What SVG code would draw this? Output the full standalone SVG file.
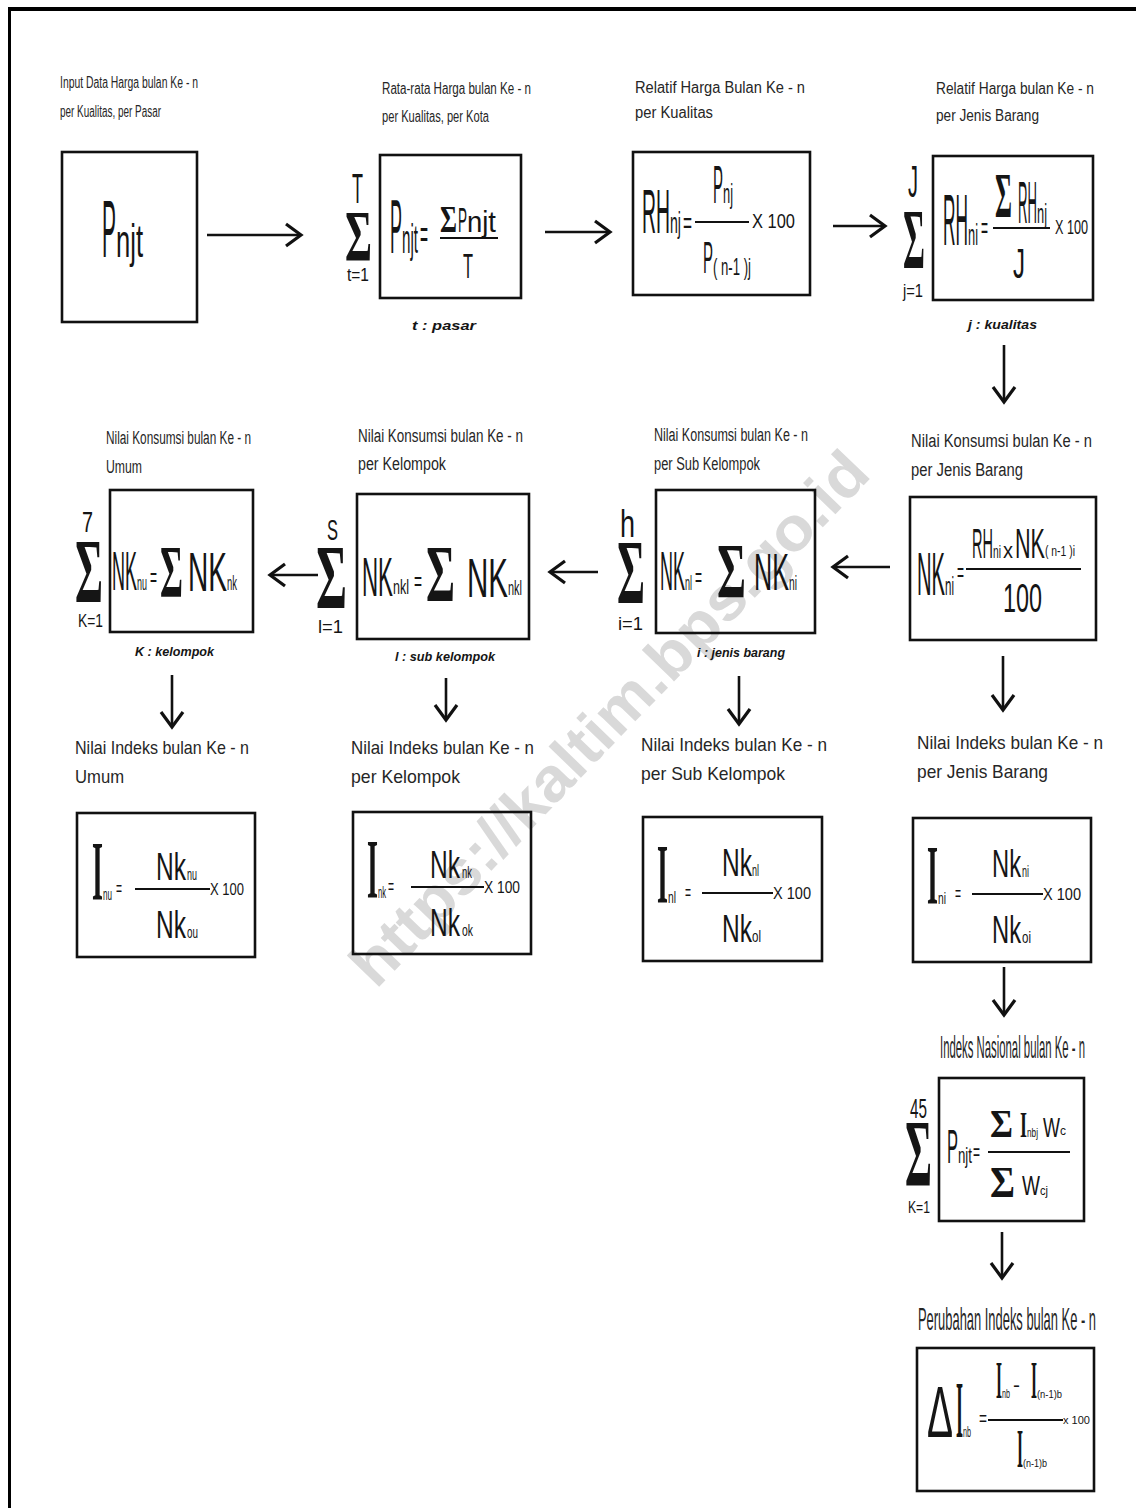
<svg xmlns="http://www.w3.org/2000/svg" width="1136" height="1508" viewBox="0 0 1136 1508">
<style>
text{font-family:"Liberation Sans",Arial,sans-serif;fill:#151515}
.lbl{fill:#262626}
.s16{font-size:16px}
.s18{font-size:18px}
.s19{font-size:19px}
.note{font-size:13px;font-style:italic;font-weight:bold}
.sg{font-family:"Liberation Serif","Times New Roman",serif;font-weight:bold}
.ib{font-family:"Liberation Serif","Times New Roman",serif;font-weight:bold}
.box{fill:none;stroke:#111;stroke-width:2.6}
.fl{stroke:#111;stroke-width:2.2}
.con{stroke:#111;stroke-width:2.6;fill:none}
.wm{font-weight:bold;font-size:62px;fill:#d9d9d9}
</style>
<defs>
<marker id="ah" markerUnits="userSpaceOnUse" markerWidth="30" markerHeight="30" refX="0" refY="0" viewBox="-18 -15 22 30" orient="auto">
<path d="M-15,-11 L0,0 L-15,11" fill="none" stroke="#111" stroke-width="3.2" stroke-linejoin="miter"/>
</marker>
</defs>
<rect x="0" y="0" width="1136" height="1508" fill="#fff"/>
<g id="frame">
<line x1="8" y1="9" x2="1136" y2="9" stroke="#000" stroke-width="4"/>
<line x1="9.5" y1="8" x2="9.5" y2="1508" stroke="#000" stroke-width="3"/>
</g>
<text class="wm" transform="translate(376,990) rotate(-46)" textLength="715" lengthAdjust="spacingAndGlyphs">https://kaltim.bps.go.id</text>

<g id="connectors">
<line class="con" x1="207" y1="235" x2="301" y2="235" marker-end="url(#ah)"/>
<line class="con" x1="545" y1="232" x2="610" y2="232" marker-end="url(#ah)"/>
<line class="con" x1="833" y1="226" x2="885" y2="226" marker-end="url(#ah)"/>
<line class="con" x1="1004" y1="345" x2="1004" y2="402" marker-end="url(#ah)"/>
<line class="con" x1="890" y1="567" x2="833" y2="567" marker-end="url(#ah)"/>
<line class="con" x1="598" y1="572" x2="550" y2="572" marker-end="url(#ah)"/>
<line class="con" x1="318" y1="575" x2="270" y2="575" marker-end="url(#ah)"/>
<line class="con" x1="172" y1="675" x2="172" y2="727" marker-end="url(#ah)"/>
<line class="con" x1="446" y1="678" x2="446" y2="720" marker-end="url(#ah)"/>
<line class="con" x1="739" y1="676" x2="739" y2="724" marker-end="url(#ah)"/>
<line class="con" x1="1003" y1="656" x2="1003" y2="710" marker-end="url(#ah)"/>
<line class="con" x1="1004" y1="967" x2="1004" y2="1015" marker-end="url(#ah)"/>
<line class="con" x1="1002" y1="1232" x2="1002" y2="1278" marker-end="url(#ah)"/>
</g>

<g id="n-input">
<text class="lbl s16" x="60" y="88" textLength="138" lengthAdjust="spacingAndGlyphs">Input Data Harga bulan Ke - n</text>
<text class="lbl s16" x="60" y="117" textLength="101" lengthAdjust="spacingAndGlyphs">per Kualitas, per Pasar</text>
<rect class="box" x="62" y="152" width="135" height="170"/>
<text y="257"><tspan x="102" font-size="82" textLength="14" lengthAdjust="spacingAndGlyphs">P</tspan><tspan x="116" font-size="46" textLength="27" lengthAdjust="spacingAndGlyphs">njt</tspan></text>
</g>

<g id="n-rata">
<text class="lbl s16" x="382" y="94" textLength="149" lengthAdjust="spacingAndGlyphs">Rata-rata Harga bulan Ke - n</text>
<text class="lbl s16" x="382" y="122" textLength="107" lengthAdjust="spacingAndGlyphs">per Kualitas, per Kota</text>
<text x="352" y="203" font-size="42" textLength="11" lengthAdjust="spacingAndGlyphs">T</text>
<text class="sg" x="345" y="260" font-size="71" textLength="27" lengthAdjust="spacingAndGlyphs">Σ</text>
<text x="347" y="281" font-size="18" textLength="22" lengthAdjust="spacingAndGlyphs">t=1</text>
<rect class="box" x="380" y="155" width="141" height="143"/>
<text y="253"><tspan x="390" font-size="76" textLength="12" lengthAdjust="spacingAndGlyphs">P</tspan><tspan x="402" font-size="40" textLength="16" lengthAdjust="spacingAndGlyphs">njt</tspan><tspan x="420" y="248" font-size="40" textLength="8" lengthAdjust="spacingAndGlyphs">=</tspan></text>
<text y="232"><tspan class="sg" x="440" font-size="38" textLength="17" lengthAdjust="spacingAndGlyphs">Σ</tspan><tspan x="458" font-size="35" textLength="9" lengthAdjust="spacingAndGlyphs">P</tspan><tspan x="467" font-size="30" textLength="29" lengthAdjust="spacingAndGlyphs">njt</tspan></text>
<line class="fl" x1="440" y1="238" x2="498" y2="238"/>
<text x="463" y="278" font-size="35" textLength="10" lengthAdjust="spacingAndGlyphs">T</text>
<text class="note" x="412" y="330" textLength="64" lengthAdjust="spacingAndGlyphs">t : pasar</text>
</g>

<g id="n-relatif-kualitas">
<text class="lbl s16" x="635" y="93" textLength="170" lengthAdjust="spacingAndGlyphs">Relatif Harga Bulan Ke - n</text>
<text class="lbl s16" x="635" y="118" textLength="78" lengthAdjust="spacingAndGlyphs">per Kualitas</text>
<rect class="box" x="633" y="152" width="177" height="143"/>
<text y="233"><tspan x="642" font-size="63" textLength="28" lengthAdjust="spacingAndGlyphs">RH</tspan><tspan x="670" font-size="30" textLength="11" lengthAdjust="spacingAndGlyphs">nj</tspan><tspan x="683" font-size="30" textLength="9" lengthAdjust="spacingAndGlyphs">=</tspan></text>
<text y="203"><tspan x="713" font-size="53" textLength="10" lengthAdjust="spacingAndGlyphs">P</tspan><tspan x="723" font-size="28" textLength="10" lengthAdjust="spacingAndGlyphs">nj</tspan></text>
<line class="fl" x1="695" y1="222" x2="749" y2="222"/>
<text x="752" y="228" font-size="21" textLength="43" lengthAdjust="spacingAndGlyphs">X 100</text>
<text y="273"><tspan x="703" font-size="44" textLength="10" lengthAdjust="spacingAndGlyphs">P</tspan><tspan x="713" y="275" font-size="24" textLength="38" lengthAdjust="spacingAndGlyphs">( n-1 )j</tspan></text>
</g>

<g id="n-relatif-jenis">
<text class="lbl s16" x="936" y="94" textLength="158" lengthAdjust="spacingAndGlyphs">Relatif Harga bulan Ke - n</text>
<text class="lbl s16" x="936" y="121" textLength="103" lengthAdjust="spacingAndGlyphs">per Jenis Barang</text>
<text x="908" y="197" font-size="45" textLength="10" lengthAdjust="spacingAndGlyphs">J</text>
<text class="sg" x="903" y="268" font-size="85" textLength="22" lengthAdjust="spacingAndGlyphs">Σ</text>
<text x="903" y="297" font-size="18" textLength="20" lengthAdjust="spacingAndGlyphs">j=1</text>
<rect class="box" x="933" y="156" width="160" height="144"/>
<text y="245"><tspan x="943" font-size="72" textLength="25" lengthAdjust="spacingAndGlyphs">RH</tspan><tspan x="968" font-size="30" textLength="10" lengthAdjust="spacingAndGlyphs">ni</tspan><tspan x="981" y="238" font-size="30" textLength="7" lengthAdjust="spacingAndGlyphs">=</tspan></text>
<text y="217"><tspan class="sg" x="995" font-size="63" textLength="17" lengthAdjust="spacingAndGlyphs">Σ</tspan><tspan x="1018" y="223" font-size="60" textLength="19" lengthAdjust="spacingAndGlyphs">RH</tspan><tspan x="1037" y="223" font-size="28" textLength="10" lengthAdjust="spacingAndGlyphs">nj</tspan></text>
<line class="fl" x1="993" y1="228" x2="1050" y2="228"/>
<text x="1055" y="234" font-size="20" textLength="33" lengthAdjust="spacingAndGlyphs">X 100</text>
<text x="1013" y="278" font-size="43" textLength="12" lengthAdjust="spacingAndGlyphs">J</text>
<text class="note" x="968" y="329" textLength="69" lengthAdjust="spacingAndGlyphs">j : kualitas</text>
</g>

<g id="n-nk-jenis">
<text class="lbl s18" x="911" y="447" textLength="181" lengthAdjust="spacingAndGlyphs">Nilai Konsumsi bulan Ke - n</text>
<text class="lbl s18" x="911" y="476" textLength="112" lengthAdjust="spacingAndGlyphs">per Jenis Barang</text>
<rect class="box" x="910" y="497" width="186" height="143"/>
<text y="595"><tspan x="917" font-size="62" textLength="28" lengthAdjust="spacingAndGlyphs">NK</tspan><tspan x="945" font-size="26" textLength="9" lengthAdjust="spacingAndGlyphs">ni</tspan><tspan x="957" y="582" font-size="28" textLength="7" lengthAdjust="spacingAndGlyphs">=</tspan></text>
<text y="558"><tspan x="972" font-size="42" textLength="21" lengthAdjust="spacingAndGlyphs">RH</tspan><tspan x="993" font-size="18" textLength="8" lengthAdjust="spacingAndGlyphs">ni</tspan><tspan x="1003" font-size="22" textLength="10" lengthAdjust="spacingAndGlyphs">x</tspan><tspan x="1015" font-size="42" textLength="30" lengthAdjust="spacingAndGlyphs">NK</tspan><tspan x="1045" y="556" font-size="14" textLength="30" lengthAdjust="spacingAndGlyphs">( n-1 )i</tspan></text>
<line class="fl" x1="966" y1="569" x2="1081" y2="569"/>
<text x="1003" y="612" font-size="40" textLength="39" lengthAdjust="spacingAndGlyphs">100</text>
</g>

<g id="n-nk-sub">
<text class="lbl s18" x="654" y="441" textLength="154" lengthAdjust="spacingAndGlyphs">Nilai Konsumsi bulan Ke - n</text>
<text class="lbl s18" x="654" y="470" textLength="106" lengthAdjust="spacingAndGlyphs">per Sub Kelompok</text>
<text x="620" y="537" font-size="38" textLength="15" lengthAdjust="spacingAndGlyphs">h</text>
<text class="sg" x="617" y="603" font-size="90" textLength="28" lengthAdjust="spacingAndGlyphs">Σ</text>
<text x="618" y="630" font-size="18" textLength="25" lengthAdjust="spacingAndGlyphs">i=1</text>
<rect class="box" x="656" y="490" width="159" height="143"/>
<text y="590"><tspan x="660" font-size="56" textLength="25" lengthAdjust="spacingAndGlyphs">NK</tspan><tspan x="685" font-size="20" textLength="7" lengthAdjust="spacingAndGlyphs">nl</tspan><tspan x="695" y="587" font-size="28" textLength="7" lengthAdjust="spacingAndGlyphs">=</tspan><tspan class="sg" x="717" y="597" font-size="78" textLength="29" lengthAdjust="spacingAndGlyphs">Σ</tspan><tspan x="754" y="590" font-size="52" textLength="35" lengthAdjust="spacingAndGlyphs">NK</tspan><tspan x="789" font-size="20" textLength="8" lengthAdjust="spacingAndGlyphs">ni</tspan></text>
<text class="note" x="697" y="657" textLength="88" lengthAdjust="spacingAndGlyphs">i : jenis barang</text>
</g>

<g id="n-nk-kelompok">
<text class="lbl s18" x="358" y="442" textLength="165" lengthAdjust="spacingAndGlyphs">Nilai Konsumsi bulan Ke - n</text>
<text class="lbl s18" x="358" y="470" textLength="88" lengthAdjust="spacingAndGlyphs">per Kelompok</text>
<text x="327" y="540" font-size="30" textLength="11" lengthAdjust="spacingAndGlyphs">S</text>
<text class="sg" x="316" y="608" font-size="92" textLength="31" lengthAdjust="spacingAndGlyphs">Σ</text>
<text x="318" y="633" font-size="18" textLength="25" lengthAdjust="spacingAndGlyphs">l=1</text>
<rect class="box" x="357" y="494" width="172" height="145"/>
<text y="596"><tspan x="362" font-size="56" textLength="31" lengthAdjust="spacingAndGlyphs">NK</tspan><tspan x="393" y="594" font-size="20" textLength="16" lengthAdjust="spacingAndGlyphs">nkl</tspan><tspan x="414" y="591" font-size="28" textLength="8" lengthAdjust="spacingAndGlyphs">=</tspan><tspan class="sg" x="426" y="601" font-size="80" textLength="29" lengthAdjust="spacingAndGlyphs">Σ</tspan><tspan x="467" y="597" font-size="56" textLength="41" lengthAdjust="spacingAndGlyphs">NK</tspan><tspan x="508" y="595" font-size="20" textLength="14" lengthAdjust="spacingAndGlyphs">nkl</tspan></text>
<text class="note" x="395" y="661" textLength="100" lengthAdjust="spacingAndGlyphs">l : sub kelompok</text>
</g>

<g id="n-nk-umum">
<text class="lbl s18" x="106" y="444" textLength="145" lengthAdjust="spacingAndGlyphs">Nilai Konsumsi bulan Ke - n</text>
<text class="lbl s18" x="106" y="473" textLength="36" lengthAdjust="spacingAndGlyphs">Umum</text>
<text x="82" y="532" font-size="30" textLength="11" lengthAdjust="spacingAndGlyphs">7</text>
<text class="sg" x="75" y="602" font-size="90" textLength="28" lengthAdjust="spacingAndGlyphs">Σ</text>
<text x="78" y="627" font-size="18" textLength="25" lengthAdjust="spacingAndGlyphs">K=1</text>
<rect class="box" x="110" y="490" width="143" height="142"/>
<text y="590"><tspan x="112" font-size="56" textLength="25" lengthAdjust="spacingAndGlyphs">NK</tspan><tspan x="137" font-size="20" textLength="10" lengthAdjust="spacingAndGlyphs">nu</tspan><tspan x="150" y="587" font-size="28" textLength="7" lengthAdjust="spacingAndGlyphs">=</tspan><tspan class="sg" x="160" y="597" font-size="73" textLength="23" lengthAdjust="spacingAndGlyphs">Σ</tspan><tspan x="188" y="591" font-size="55" textLength="39" lengthAdjust="spacingAndGlyphs">NK</tspan><tspan x="227" y="590" font-size="20" textLength="10" lengthAdjust="spacingAndGlyphs">nk</tspan></text>
<text class="note" x="135" y="656" textLength="79" lengthAdjust="spacingAndGlyphs">K : kelompok</text>
</g>

<g id="n-idx-umum">
<text class="lbl s19" x="75" y="754" textLength="174" lengthAdjust="spacingAndGlyphs">Nilai Indeks bulan Ke - n</text>
<text class="lbl s19" x="75" y="783" textLength="49" lengthAdjust="spacingAndGlyphs">Umum</text>
<rect class="box" x="77" y="813" width="178" height="144"/>
<text y="900"><tspan class="ib" x="92" font-size="84" textLength="11" lengthAdjust="spacingAndGlyphs">I</tspan><tspan x="103" font-size="17" textLength="9" lengthAdjust="spacingAndGlyphs">nu</tspan><tspan x="116" y="896" font-size="22" textLength="6" lengthAdjust="spacingAndGlyphs">=</tspan></text>
<line class="fl" x1="135" y1="889" x2="210" y2="889"/>
<text x="210" y="895" font-size="17" textLength="34" lengthAdjust="spacingAndGlyphs">X 100</text>
<text y="880"><tspan x="156" font-size="38" textLength="30" lengthAdjust="spacingAndGlyphs">Nk</tspan><tspan x="187" font-size="17" textLength="10" lengthAdjust="spacingAndGlyphs">nu</tspan></text>
<text y="938"><tspan x="156" font-size="38" textLength="30" lengthAdjust="spacingAndGlyphs">Nk</tspan><tspan x="187" font-size="17" textLength="11" lengthAdjust="spacingAndGlyphs">ou</tspan></text>
</g>

<g id="n-idx-kelompok">
<text class="lbl s19" x="351" y="754" textLength="183" lengthAdjust="spacingAndGlyphs">Nilai Indeks bulan Ke - n</text>
<text class="lbl s19" x="351" y="783" textLength="109" lengthAdjust="spacingAndGlyphs">per Kelompok</text>
<rect class="box" x="353" y="812" width="178" height="142"/>
<text y="898"><tspan class="ib" x="367" font-size="84" textLength="11" lengthAdjust="spacingAndGlyphs">I</tspan><tspan x="378" font-size="17" textLength="8" lengthAdjust="spacingAndGlyphs">nk</tspan><tspan x="388" y="894" font-size="22" textLength="6" lengthAdjust="spacingAndGlyphs">=</tspan></text>
<line class="fl" x1="411" y1="887" x2="484" y2="887"/>
<text x="484" y="893" font-size="17" textLength="36" lengthAdjust="spacingAndGlyphs">X 100</text>
<text y="878"><tspan x="430" font-size="38" textLength="30" lengthAdjust="spacingAndGlyphs">Nk</tspan><tspan x="462" font-size="17" textLength="10" lengthAdjust="spacingAndGlyphs">nk</tspan></text>
<text y="936"><tspan x="430" font-size="38" textLength="30" lengthAdjust="spacingAndGlyphs">Nk</tspan><tspan x="462" font-size="17" textLength="11" lengthAdjust="spacingAndGlyphs">ok</tspan></text>
</g>

<g id="n-idx-sub">
<text class="lbl s19" x="641" y="751" textLength="186" lengthAdjust="spacingAndGlyphs">Nilai Indeks bulan Ke - n</text>
<text class="lbl s19" x="641" y="780" textLength="144" lengthAdjust="spacingAndGlyphs">per Sub Kelompok</text>
<rect class="box" x="643" y="817" width="179" height="144"/>
<text y="903"><tspan class="ib" x="657" font-size="84" textLength="11" lengthAdjust="spacingAndGlyphs">I</tspan><tspan x="668" font-size="17" textLength="8" lengthAdjust="spacingAndGlyphs">nl</tspan><tspan x="685" y="900" font-size="22" textLength="6" lengthAdjust="spacingAndGlyphs">=</tspan></text>
<line class="fl" x1="702" y1="893" x2="773" y2="893"/>
<text x="773" y="899" font-size="17" textLength="38" lengthAdjust="spacingAndGlyphs">X 100</text>
<text y="876"><tspan x="722" font-size="38" textLength="30" lengthAdjust="spacingAndGlyphs">Nk</tspan><tspan x="752" font-size="17" textLength="7" lengthAdjust="spacingAndGlyphs">nl</tspan></text>
<text y="942"><tspan x="722" font-size="38" textLength="30" lengthAdjust="spacingAndGlyphs">Nk</tspan><tspan x="752" font-size="17" textLength="9" lengthAdjust="spacingAndGlyphs">ol</tspan></text>
</g>

<g id="n-idx-jenis">
<text class="lbl s19" x="917" y="749" textLength="186" lengthAdjust="spacingAndGlyphs">Nilai Indeks bulan Ke - n</text>
<text class="lbl s19" x="917" y="778" textLength="131" lengthAdjust="spacingAndGlyphs">per Jenis Barang</text>
<rect class="box" x="913" y="818" width="178" height="144"/>
<text y="904"><tspan class="ib" x="927" font-size="84" textLength="11" lengthAdjust="spacingAndGlyphs">I</tspan><tspan x="938" font-size="17" textLength="8" lengthAdjust="spacingAndGlyphs">ni</tspan><tspan x="955" y="901" font-size="22" textLength="6" lengthAdjust="spacingAndGlyphs">=</tspan></text>
<line class="fl" x1="972" y1="894" x2="1043" y2="894"/>
<text x="1043" y="900" font-size="17" textLength="38" lengthAdjust="spacingAndGlyphs">X 100</text>
<text y="877"><tspan x="992" font-size="38" textLength="29" lengthAdjust="spacingAndGlyphs">Nk</tspan><tspan x="1022" font-size="17" textLength="7" lengthAdjust="spacingAndGlyphs">ni</tspan></text>
<text y="943"><tspan x="992" font-size="38" textLength="29" lengthAdjust="spacingAndGlyphs">Nk</tspan><tspan x="1022" font-size="17" textLength="9" lengthAdjust="spacingAndGlyphs">oi</tspan></text>
</g>

<g id="n-nasional">
<text class="lbl" x="1085" y="1058" font-size="32" text-anchor="end" textLength="145" lengthAdjust="spacingAndGlyphs">Indeks Nasional bulan Ke - n</text>
<text x="910" y="1118" font-size="27" textLength="17" lengthAdjust="spacingAndGlyphs">45</text>
<text class="sg" x="905" y="1186" font-size="96" textLength="27" lengthAdjust="spacingAndGlyphs">Σ</text>
<text x="908" y="1213" font-size="16" textLength="22" lengthAdjust="spacingAndGlyphs">K=1</text>
<rect class="box" x="939" y="1078" width="145" height="143"/>
<text y="1163"><tspan x="947" font-size="49" textLength="11" lengthAdjust="spacingAndGlyphs">P</tspan><tspan x="958" font-size="22" textLength="14" lengthAdjust="spacingAndGlyphs">njt</tspan><tspan x="973" y="1160" font-size="24" textLength="7" lengthAdjust="spacingAndGlyphs">=</tspan></text>
<text y="1137"><tspan class="sg" x="990" font-size="41" textLength="23" lengthAdjust="spacingAndGlyphs">Σ</tspan><tspan class="ib" x="1020" font-size="36" textLength="7" lengthAdjust="spacingAndGlyphs">I</tspan><tspan x="1027" font-size="12" textLength="11" lengthAdjust="spacingAndGlyphs">nbj</tspan><tspan x="1043" font-size="27" textLength="17" lengthAdjust="spacingAndGlyphs">W</tspan><tspan x="1060" y="1135" font-size="12" textLength="6" lengthAdjust="spacingAndGlyphs">c</tspan></text>
<line class="fl" x1="988" y1="1152" x2="1070" y2="1152"/>
<text y="1197"><tspan class="sg" x="990" font-size="45" textLength="25" lengthAdjust="spacingAndGlyphs">Σ</tspan><tspan x="1022" y="1195" font-size="28" textLength="18" lengthAdjust="spacingAndGlyphs">W</tspan><tspan x="1040" y="1195" font-size="12" textLength="8" lengthAdjust="spacingAndGlyphs">cj</tspan></text>
</g>

<g id="n-perubahan">
<text class="lbl" x="1096" y="1330" font-size="32" text-anchor="end" textLength="178" lengthAdjust="spacingAndGlyphs">Perubahan Indeks bulan Ke - n</text>
<rect class="box" x="917" y="1348" width="177" height="143"/>
<text y="1437"><tspan x="927" font-size="72" textLength="26" lengthAdjust="spacingAndGlyphs">Δ</tspan><tspan class="ib" x="956" font-size="80" textLength="7" lengthAdjust="spacingAndGlyphs">I</tspan><tspan x="963" font-size="14" textLength="8" lengthAdjust="spacingAndGlyphs">nb</tspan><tspan x="979" y="1426" font-size="22" textLength="8" lengthAdjust="spacingAndGlyphs">=</tspan></text>
<text y="1398"><tspan class="ib" x="996" font-size="52" textLength="6" lengthAdjust="spacingAndGlyphs">I</tspan><tspan x="1002" font-size="12" textLength="8" lengthAdjust="spacingAndGlyphs">nb</tspan><tspan x="1013" y="1392" font-size="20" textLength="7" lengthAdjust="spacingAndGlyphs">-</tspan><tspan class="ib" x="1031" y="1398" font-size="52" textLength="6" lengthAdjust="spacingAndGlyphs">I</tspan><tspan x="1037" font-size="10" textLength="25" lengthAdjust="spacingAndGlyphs">(n-1)b</tspan></text>
<line class="fl" x1="988" y1="1420" x2="1063" y2="1420"/>
<text x="1063" y="1424" font-size="11" textLength="27" lengthAdjust="spacingAndGlyphs">x 100</text>
<text y="1467"><tspan class="ib" x="1017" font-size="55" textLength="6" lengthAdjust="spacingAndGlyphs">I</tspan><tspan x="1023" font-size="10" textLength="24" lengthAdjust="spacingAndGlyphs">(n-1)b</tspan></text>
</g>
</svg>
